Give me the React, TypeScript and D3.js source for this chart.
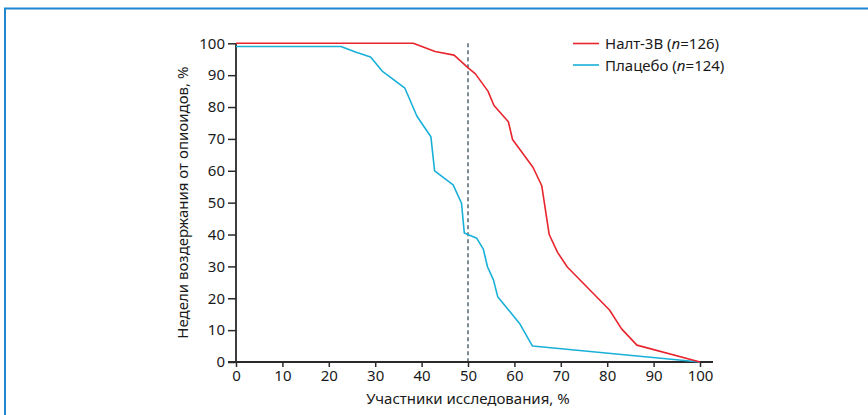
import React, { useEffect, useRef } from "react";
import * as d3 from "d3";

const xTicks = [0, 10, 20, 30, 40, 50, 60, 70, 80, 90, 100];
const yTicks = [0, 10, 20, 30, 40, 50, 60, 70, 80, 90, 100];

const naltX = [0, 38.2, 42.9, 47.0, 50.1, 51.6, 54.3, 55.6, 58.7, 59.6, 64.0, 65.9, 67.5, 69.3, 71.4, 80.5, 83.1, 86.4, 100];
const naltY = [100, 100, 97.4, 96.3, 92.2, 90.4, 85.0, 80.5, 75.4, 69.8, 61.1, 55.3, 40.0, 34.4, 29.8, 16.3, 10.4, 5.3, 0];

const placX = [0, 22.6, 25.9, 29.0, 31.5, 36.4, 39.0, 42.0, 42.8, 46.8, 48.6, 49.2, 51.9, 53.3, 54.2, 55.5, 56.4, 61.2, 63.9, 100];
const placY = [99, 99, 97.2, 95.7, 91.3, 85.9, 77.1, 70.7, 60.0, 55.6, 49.8, 40.5, 38.8, 35.4, 29.9, 25.7, 20.5, 11.9, 5.0, 0];

const seriesNames = ["Налт-3В", "Плацебо"];
const seriesN = ["126", "124"];
const colors = ["#e8242c", "#19b0d8"];

const W = 868;
const H = 415;

export default function App() {
  const ref = useRef<SVGSVGElement>(null);

  useEffect(() => {
    const svg = d3.select(ref.current);
    svg.selectAll("*").remove();
    const font = "'Noto Sans', sans-serif";

    // frame
    svg.append("rect")
      .attr("x", 5).attr("y", 8.5).attr("width", 1000).attr("height", 600)
      .attr("fill", "none").attr("stroke", "#1f86cf").attr("stroke-width", 2);

    const x = d3.scaleLinear().domain([0, 100]).range([236, 700]);
    const y = d3.scaleLinear().domain([0, 100]).range([362, 43.3]);

    const g = svg.append("g");

    // dashed line at 50
    g.append("line")
      .attr("x1", x(50)).attr("x2", x(50))
      .attr("y1", y(100)).attr("y2", y(0))
      .attr("stroke", "#5d707c").attr("stroke-width", 1.6)
      .attr("stroke-dasharray", "4,3");

    // axes
    const yAxis = g.append("g").attr("transform", `translate(${x(0)},0)`)
      .call(d3.axisLeft(y).tickValues(yTicks).tickSize(8).tickPadding(3).tickSizeOuter(0));
    const xAxis = g.append("g").attr("transform", `translate(0,${y(0)})`)
      .call(d3.axisBottom(x).tickValues(xTicks).tickSize(5).tickPadding(3).tickSizeOuter(0));
    for (const ax of [xAxis, yAxis]) {
      ax.select(".domain").remove();
      ax.selectAll("line").attr("stroke", "#2a2a2a").attr("stroke-width", 1.5);
      ax.selectAll("text").attr("font-family", font).attr("font-size", 15).attr("fill", "#1a1a1a");
    }
    // axis lines
    g.append("line").attr("x1", x(0) - 8).attr("x2", 713).attr("y1", y(0)).attr("y2", y(0))
      .attr("stroke", "#2a2a2a").attr("stroke-width", 1.8);
    g.append("line").attr("x1", x(0)).attr("x2", x(0)).attr("y1", y(100)).attr("y2", y(0))
      .attr("stroke", "#2a2a2a").attr("stroke-width", 1.8);

    const line = d3.line<[number, number]>().x(d => x(d[0])).y(d => y(d[1]));
    const series: [number, number][][] = [
      naltX.map((v, i) => [v, naltY[i]]),
      placX.map((v, i) => [v, placY[i]]),
    ];
    // placebo first so red draws on top
    [1, 0].forEach(i => {
      g.append("path").datum(series[i]).attr("d", line)
        .attr("fill", "none").attr("stroke", colors[i]).attr("stroke-width", 1.6)
        .attr("stroke-linejoin", "round");
    });

    // axis titles
    svg.append("text")
      .attr("x", x(50)).attr("y", 404)
      .attr("text-anchor", "middle")
      .attr("font-family", font).attr("font-size", 15).attr("fill", "#1a1a1a")
      .text("Участники исследования, %");
    svg.append("text")
      .attr("transform", `translate(188,${(y(0) + y(100)) / 2}) rotate(-90)`)
      .attr("text-anchor", "middle")
      .attr("font-family", font).attr("font-size", 15).attr("fill", "#1a1a1a")
      .text("Недели воздержания от опиоидов, %");

    // legend
    seriesNames.forEach((name, i) => {
      const ly = 43.5 + i * 21.5;
      svg.append("line").attr("x1", 573).attr("x2", 599).attr("y1", ly).attr("y2", ly)
        .attr("stroke", colors[i]).attr("stroke-width", 1.6);
      const t = svg.append("text").attr("x", 605).attr("y", ly + 5.5)
        .attr("font-family", font).attr("font-size", 15).attr("fill", "#1a1a1a");
      t.append("tspan").text(name + " (");
      t.append("tspan").attr("font-style", "italic").text("n");
      t.append("tspan").text("=" + seriesN[i] + ")");
    });
  }, []);

  return (
    <div style={{ position: "fixed", left: 0, top: 0 }}>
      <svg ref={ref} width={W} height={H} style={{ display: "block", background: "#fff" }} />
    </div>
  );
}
